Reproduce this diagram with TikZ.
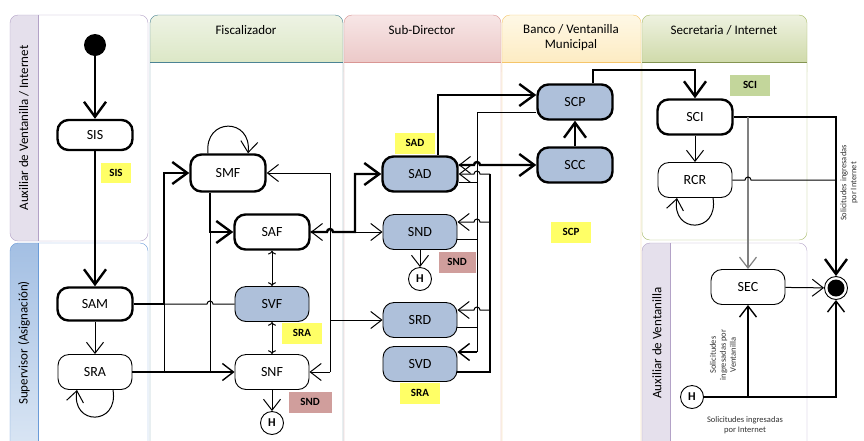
\documentclass[tikz,border=0pt]{standalone}
\usepackage{fontspec}
\setmainfont{Carlito}
\usetikzlibrary{arrows.meta}

\definecolor{actblue}{HTML}{AEC0DA}
\definecolor{tagyellow}{HTML}{FFFF66}
\definecolor{tagbrown}{HTML}{D09E9C}
\definecolor{taggreen}{HTML}{C3D69B}
\definecolor{lavband}{HTML}{E5E0EC}
\definecolor{lavline}{HTML}{B3A2C7}
\definecolor{supline}{HTML}{6A9BD8}
\definecolor{suptop}{HTML}{A3BFE3}
\definecolor{supbot}{HTML}{DDE8F5}
\definecolor{fisline}{HTML}{4B8394}
\definecolor{fistop}{HTML}{EEF3E4}
\definecolor{fisbot}{HTML}{D5E3BB}
\definecolor{subline}{HTML}{D99694}
\definecolor{subtop}{HTML}{F7E6E6}
\definecolor{subbot}{HTML}{E8BEBD}
\definecolor{banline}{HTML}{F5C56A}
\definecolor{bantop}{HTML}{FEF8E6}
\definecolor{banbot}{HTML}{FDE7B5}
\definecolor{secline}{HTML}{A5B965}
\definecolor{sectop}{HTML}{EEF2E0}
\definecolor{secbot}{HTML}{C4D196}

\begin{document}
\begin{tikzpicture}[
        x=1pt, y=-1pt,
        boldnode/.style={rectangle, rounded corners=11pt, draw, line width=2.4pt, minimum width=75pt, minimum height=35pt, font=\fontsize{14}{16}\selectfont},
        plainnode/.style={rectangle, rounded corners=11pt, draw, line width=0.9pt, minimum width=74pt, minimum height=35pt, font=\fontsize{14}{16}\selectfont},
        tagnode/.style={rectangle, inner sep=0pt, minimum height=21pt, minimum width=40pt, font=\fontsize{11}{13}\selectfont\bfseries},
        histnode/.style={circle, draw, line width=0.9pt, minimum size=23pt, inner sep=0pt, fill=white, font=\fontsize{12}{14}\selectfont\bfseries},
        lanetitle/.style={font=\fontsize{13}{15}\selectfont, align=center},
        sidetitle/.style={font=\fontsize{13}{15}\selectfont, rotate=90},
        smalltext/.style={font=\fontsize{8.5}{10}\selectfont, align=center, text=black!80},
        boldarrow/.style={line width=2.4pt, -{Straight Barb[length=15pt,width=22pt]}},
        midarrow/.style={line width=1.4pt, -{Straight Barb[length=11pt,width=17pt]}},
        plainarrow/.style={line width=1pt, -{Straight Barb[length=11pt,width=17pt]}},
        greyarrow/.style={line width=1.2pt, draw=black!50, -{Straight Barb[length=11pt,width=17pt]}},
        plainline/.style={line width=1pt},
        midline/.style={line width=1.4pt},
    ]
    \useasboundingbox (0,0) rectangle (864,440);
    \clip (0,0) rectangle (864,440);

    \fill[lavband, rounded corners=8pt] (10,15) rectangle (60,241);
    \fill[white] (38,15) rectangle (140,241);
    \draw[lavline, rounded corners=8pt] (10,15) rectangle (148,241);
    \draw[lavline] (38,15) -- (38,241);
    \node[sidetitle] (lane1) at (24,128) {Auxiliar de Ventanilla / Internet};

    \shade[top color=suptop, bottom color=supbot, rounded corners=8pt] (10,243) rectangle (60,460);
    \fill[white] (38,243) rectangle (140,460);
    \draw[supline, rounded corners=8pt] (10,243) rectangle (148,460);
    \draw[supline] (38,243) -- (38,460);
    \node[sidetitle] (lane2) at (24,343) {Supervisor (Asignación)};

    \shade[top color=fistop, bottom color=fisbot, rounded corners=8pt] (150,15) rectangle (343,80);
    \fill[white] (150,62) rectangle (343,460);
    \draw[fisline, rounded corners=8pt] (150,15) rectangle (343,460);
    \draw[fisline] (150,62) -- (343,62);
    \node[lanetitle] (lane3) at (246,30) {Fiscalizador};

    \shade[top color=subtop, bottom color=subbot, rounded corners=8pt] (344,15) rectangle (501,80);
    \fill[white] (344,62) rectangle (501,460);
    \draw[subline, rounded corners=8pt] (344,15) rectangle (501,460);
    \draw[subline] (344,62) -- (501,62);
    \node[lanetitle] (lane4) at (422,30) {Sub-Director};

    \shade[top color=bantop, bottom color=banbot, rounded corners=8pt] (502,15) rectangle (641,80);
    \fill[white] (502,62) rectangle (641,460);
    \draw[banline, rounded corners=8pt] (502,15) rectangle (641,460);
    \draw[banline] (502,62) -- (641,62);
    \node[lanetitle] (lane5) at (571,38) {Banco / Ventanilla\\Municipal};

    \shade[top color=sectop, bottom color=secbot, rounded corners=8pt] (642,15) rectangle (807,80);
    \fill[white] (642,62) rectangle (807,240);
    \draw[secline, rounded corners=8pt] (642,15) rectangle (807,240);
    \draw[secline!80!black] (642,62) -- (807,62);
    \node[lanetitle] (lane6) at (724,30) {Secretaria / Internet};

    \fill[lavband, rounded corners=8pt] (642,243) rectangle (690,460);
    \fill[white] (670,243) rectangle (800,460);
    \draw[lavline, rounded corners=8pt] (642,243) rectangle (807,460);
    \draw[lavline] (670,243) -- (670,460);
    \node[sidetitle] (lane7) at (657,343) {Auxiliar de Ventanilla};

    \node[circle, fill, minimum size=22pt, inner sep=0pt] (start) at (95,45) {};
    \node[boldnode, minimum height=30pt] (sis) at (95,135) {SIS};
    \node[tagnode, fill=tagyellow, minimum width=30pt, minimum height=20pt] (tsis) at (116,173) {SIS};
    \node[boldnode, minimum height=33pt] (sam) at (95,304) {SAM};
    \node[plainnode] (sra) at (95,372) {SRA};
    \node[boldnode, minimum height=37pt] (smf) at (228,173) {SMF};
    \node[boldnode] (saf) at (272,232) {SAF};
    \node[plainnode, fill=actblue] (svf) at (272,304) {SVF};
    \node[tagnode, fill=tagyellow] (tsra1) at (302,333) {SRA};
    \node[plainnode] (snf) at (272,372) {SNF};
    \node[tagnode, fill=tagbrown, minimum width=43pt] (tsnd1) at (310,402) {SND};
    \node[histnode] (hist1) at (272,423) {H};
    \node[boldnode, fill=actblue] (sad) at (420,174) {SAD};
    \node[tagnode, fill=tagyellow] (tsad) at (415,143) {SAD};
    \node[plainnode, fill=actblue] (snd) at (420,232) {SND};
    \node[histnode] (hist2) at (420,279) {H};
    \node[tagnode, fill=tagbrown, minimum width=37pt] (tsnd2) at (457,262) {SND};
    \node[plainnode, fill=actblue] (srd) at (420,320) {SRD};
    \node[plainnode, fill=actblue] (svd) at (420,364) {SVD};
    \node[tagnode, fill=tagyellow] (tsra2) at (420,393) {SRA};
    \node[boldnode, fill=actblue] (scp) at (575,102) {SCP};
    \node[boldnode, fill=actblue] (scc) at (575,165) {SCC};
    \node[tagnode, fill=tagyellow] (tscp) at (571,232) {SCP};
    \node[boldnode] (sci) at (695,117) {SCI};
    \node[tagnode, fill=taggreen] (tsci) at (750,85) {SCI};
    \node[plainnode] (rcr) at (695,180) {RCR};
    \node[plainnode] (sec) at (748,287) {SEC};
    \node[circle, draw, line width=0.9pt, minimum size=23pt, inner sep=0pt] (endn) at (836,288) {};
    \fill (endn) circle (8.5);
    \node[histnode] (hist3) at (692,397) {H};
    \node[smalltext] (txtint) at (745,425) {Solicitudes ingresadas\\por Internet};
    \node[smalltext, rotate=90] (txtven) at (723,355) {Solicitudes\\ingresadas por\\Ventanilla};
    \node[smalltext, rotate=90] (txtout) at (849,183) {Solicitudes ingresadas\\por Internet};

    \coordinate (jsam) at (164,304);
    \coordinate (jsaf) at (210,232);
    \coordinate (jr1) at (330,173);
    \coordinate (jr2) at (330,372);
    \coordinate (jr3) at (330,320);
    \coordinate (jsub) at (355,232);
    \coordinate (jtop) at (438,95);
    \coordinate (atop) at (477,112);
    \coordinate (abot) at (477,352);
    \coordinate (btop) at (490,174);
    \coordinate (bbot) at (490,372);
    \coordinate (jscp) at (593,70);

    \draw[boldarrow] (start) -- (sis);
    \draw[boldarrow] (sis) -- (sam);
    \draw[plainarrow] (sam) -- (sra);
    \draw[plainarrow] ([xshift=18pt]sra.south) .. controls +(6,36) and +(-6,36) .. ([xshift=-18pt]sra.south);
    \draw[boldarrow] (sam.east) -- (jsam) |- (smf.west);
    \draw[plainline] (jsam) -- (207,304) arc[start angle=180, end angle=360, radius=3] -- (svf.west);
    \draw[plainline] (jsam) -- (jsam |- snf);
    \draw[boldarrow] (smf.south -| jsaf) |- (saf.west);
    \draw[plainline] (jsaf) -- (jsaf |- snf);
    \draw[midarrow] (sra) -- (snf);
    \draw[plainarrow] ([xshift=-20pt]smf.north) .. controls +(-4,-36) and +(4,-36) .. ([xshift=20pt]smf.north);
    \draw[plainarrow, <->] (saf) -- (svf);
    \draw[plainarrow, <->] (svf) -- (snf);
    \draw[plainarrow] (snf) -- (hist1);
    \draw[plainarrow] (jr1) -- (smf.east);
    \draw[plainline] (jr1) -- (jr2);
    \draw[plainarrow] (jr2) -- (snf.east);
    \draw[plainarrow] (jr3) -- (srd.west);

    \draw[boldarrow] (saf.east) -- (327,232) arc[start angle=180, end angle=360, radius=3] -- (jsub) |- (sad.west);
    \draw[plainarrow] ([xshift=14pt]saf.east) -- (saf.east);
    \draw[plainarrow] (jsub) -- (snd.west);
    \draw[plainarrow] (snd) -- (hist2);
    \draw[boldarrow] (sad.north -| jtop) -- (jtop) -- (jtop -| scp.west);
    \draw[boldarrow] (sad.east |- scc) -- ([xshift=-3pt]atop |- scc) arc[start angle=180, end angle=360, radius=3] -- (scc.west);
    \draw[plainarrow] ([xshift=14pt]sad.east |- scc) -- (sad.east |- scc);

    \draw[plainline] (scp.west |- atop) -- (atop) -- (abot);
    \draw[midarrow] (abot) -- (abot -| svd.east);
    \draw[midline] ([yshift=-8pt]svd.east) -- (bbot) -- (btop);
    \draw[plainarrow] (btop) -- ++(-10,0) arc[start angle=0, end angle=-180, radius=3] -- (sad.east);
    \draw[plainline] ([yshift=-8pt]sad.east) -- ([yshift=-8pt]sad.east -| atop);
    \draw[plainarrow] ([yshift=10pt]snd.east -| btop) -- ++(-10,0) arc[start angle=0, end angle=-180, radius=3] -- ([yshift=10pt]snd.east);
    \draw[plainline] ([yshift=-7pt]snd.east) -- ([yshift=-7pt]snd.east -| atop);
    \draw[plainarrow] ([yshift=10pt]srd.east -| btop) -- ++(-10,0) arc[start angle=0, end angle=-180, radius=3] -- ([yshift=10pt]srd.east);
    \draw[plainline] ([yshift=-7pt]srd.east) -- ([yshift=-7pt]srd.east -| atop);

    \draw[boldarrow] (scc) -- (scp);
    \draw[boldarrow] (scp.north -| jscp) -- (jscp) -| (sci.north);
    \draw[plainarrow] (sci) -- (rcr);
    \draw[plainarrow] ([xshift=18pt]rcr.south) .. controls +(6,36) and +(-6,36) .. ([xshift=-18pt]rcr.south);
    \draw[boldarrow] (sci.east) -| (endn.north);
    \draw[greyarrow] (sci.east -| sec) -- (sec.north);
    \draw[plainline] (rcr.east) -- ([xshift=-3pt]rcr -| sec) arc[start angle=180, end angle=360, radius=3] -- (rcr -| endn);
    \draw[plainarrow] (sec) -- (endn);
    \draw[midarrow] (hist3) -| (sec);
    \draw[midarrow] (hist3) -| (endn);
\end{tikzpicture}
\end{document}
